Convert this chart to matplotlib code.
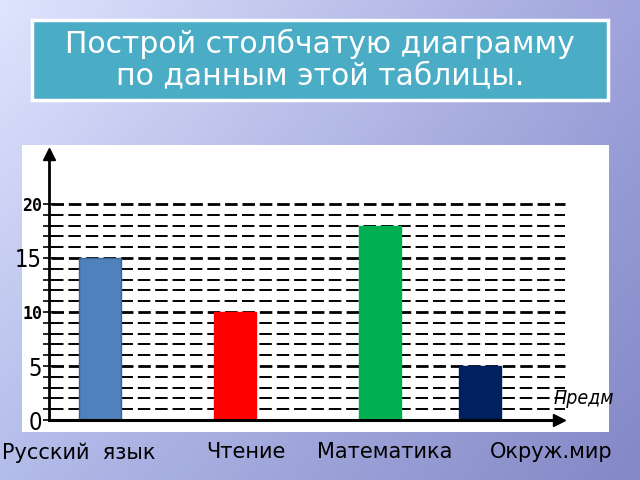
import numpy as np
import matplotlib
matplotlib.use("Agg")
import matplotlib.pyplot as plt
from matplotlib.patches import Rectangle

plt.rcParams['lines.scale_dashes'] = False

# data
categories = ["Русский  язык", "Чтение", "Математика", "Окруж.мир"]
values = [15, 10, 18, 5]
bar_colors = ["#4f81bd", "#ff0000", "#00b050", "#002060"]
y_labels = {0: "0", 5: "5", 10: "10", 15: "15", 20: "20"}
title = "Построй столбчатую диаграмму\nпо данным этой таблицы."
axis_name = "Предм"

# layout (x in axis units)
bar_pos = [0.51, 1.86, 3.31, 4.31]
label_pos = [0.30, 1.97, 3.36, 5.02]

fig = plt.figure(figsize=(6.4, 4.8), dpi=100)

# slide background gradient
bg = fig.add_axes([0, 0, 1, 1])
tl = np.array([222, 228, 253]) / 255
tr = np.array([160, 164, 220]) / 255
bl = np.array([180, 188, 234]) / 255
br = np.array([132, 136, 198]) / 255
u = np.linspace(0, 1, 64)[None, :, None]
v = np.linspace(0, 1, 48)[:, None, None]
grad = (1 - v) * ((1 - u) * tl + u * tr) + v * ((1 - u) * bl + u * br)
bg.imshow(grad, extent=[0, 640, 480, 0], aspect='auto', interpolation='bilinear')
bg.set_xlim(0, 640)
bg.set_ylim(480, 0)
bg.axis('off')

# title box
bg.add_patch(Rectangle((34, 22), 576, 80, facecolor='#7f86b8', edgecolor='none', alpha=0.5))
bg.add_patch(Rectangle((32, 20), 576, 80, facecolor='#4bacc6', edgecolor='white', lw=2.5))
bg.text(320, 60, title, color='white', fontsize=21.5, ha='center', va='center',
        linespacing=1.12)

# chart
ax = fig.add_axes([22 / 640, 48 / 480, 587 / 640, 287 / 480])
ax.set_facecolor('white')
ax.set_xlim(-0.27, 5.6)
ax.set_ylim(-1.11, 25.46)

levels = list(range(1, 21))
widths = [2.0 if l % 5 == 0 else 1.4 for l in levels]
ax.hlines(levels, 0.02, 5.16, colors='black', linewidths=widths,
          linestyles=(0, (9, 3.5)), zorder=1)

ax.bar(bar_pos, values, width=0.42, color=bar_colors,
       edgecolor=['#3a6496', bar_colors[1], bar_colors[2], bar_colors[3]],
       linewidth=1, zorder=2)

for s in ['top', 'right']:
    ax.spines[s].set_visible(False)
ax.spines['left'].set_position(('data', 0))
ax.spines['bottom'].set_position(('data', 0))
ax.spines['left'].set_bounds(0, 24.6)
ax.spines['bottom'].set_bounds(0, 5.1)
ax.spines['left'].set_linewidth(2)
ax.spines['bottom'].set_linewidth(2.2)
ax.plot([0], [24.6], marker='^', markersize=9, color='black', clip_on=False, zorder=3)
ax.plot([5.1], [0], marker='>', markersize=9, color='black', clip_on=False, zorder=3)

ax.set_yticks(range(0, 21))
ax.set_yticklabels([y_labels.get(i, "") for i in range(0, 21)])
ax.tick_params(axis='y', direction='inout', length=8, width=1.2, pad=1)
for lab, t in zip(ax.get_yticklabels(), range(0, 21)):
    if t in (10, 20):
        lab.set_fontfamily('DejaVu Sans Mono')
        lab.set_fontweight('bold')
        lab.set_fontsize(12)
    else:
        lab.set_fontfamily('DejaVu Sans')
        lab.set_fontstretch('condensed')
        lab.set_fontsize(17)

ax.set_xticks(label_pos)
ax.set_xticklabels(categories, fontsize=15)
ax.tick_params(axis='x', length=0, pad=16)

ax.text(5.05, 2.0, axis_name, fontsize=14, style='italic', ha='left', va='center',
        family='DejaVu Sans', fontstretch='condensed', clip_on=False)

fig.savefig("out.png", dpi=100)
